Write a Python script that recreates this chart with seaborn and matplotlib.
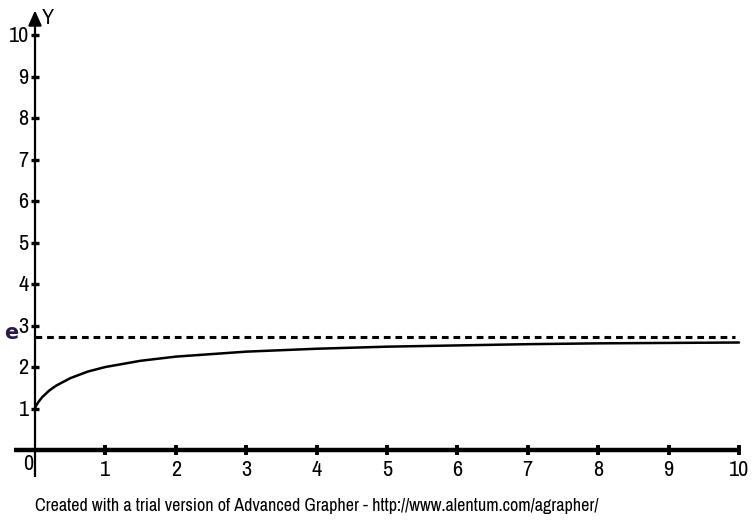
import matplotlib
matplotlib.use("Agg")
import matplotlib.pyplot as plt
from matplotlib import font_manager
import seaborn as sns
import pandas as pd

# values
curve_x = [0, 0.01, 0.02, 0.05, 0.1, 0.2, 0.3, 0.5, 0.75, 1, 1.5, 2, 3, 4, 5, 6, 7, 8, 9, 10]
curve_y = [1.0, 1.05, 1.08, 1.16, 1.27, 1.43, 1.55, 1.73, 1.89, 2.0, 2.15, 2.25, 2.37, 2.44, 2.49, 2.52, 2.55, 2.57, 2.58, 2.59]
asymptote_y = 2.718
x_ticks = [1, 2, 3, 4, 5, 6, 7, 8, 9, 10]
y_ticks = [1, 2, 3, 4, 5, 6, 7, 8, 9, 10]
footer = "Created with a trial version of Advanced Grapher - http://www.alentum.com/agrapher/"

sns.set_style("white")
names = sorted({f.name for f in font_manager.fontManager.ttflist})
narrow = [n for n in names if "Narrow" in n or "Condensed" in n]
FONT = (narrow[:1] if narrow else []) + ["Liberation Sans", "DejaVu Sans"]
plt.rcParams["font.family"] = FONT
TS = 16 if narrow else 12

fig = plt.figure(figsize=(7.53, 5.22), dpi=100)
ax = fig.add_axes([0, 0, 1, 1])
ax.set_xlim(-35 / 70.4, (753 - 35) / 70.4)
ax.set_ylim(-72 / 41.5, 450 / 41.5)
ax.axis("off")

df = pd.DataFrame({"x": curve_x, "y": curve_y})
sns.lineplot(data=df, x="x", y="y", ax=ax, color="black", linewidth=1.8, zorder=3)

# asymptote
ax.plot([0, 9.95], [asymptote_y, asymptote_y], color="black", linewidth=2.2,
        dashes=(2.2, 1.6), zorder=3)

# axes
ax.plot([-0.3, 10.0], [0, 0], color="black", linewidth=3.2, solid_capstyle="butt", zorder=4)
ax.annotate("", xy=(10.22, 0), xytext=(9.95, 0),
            arrowprops=dict(arrowstyle="-|>,head_length=0.7,head_width=0.35", color="black", lw=2))
ax.plot([0, 0], [-0.66, 10.3], color="black", linewidth=1.6, solid_capstyle="butt", zorder=4)
ax.annotate("", xy=(0, 10.66), xytext=(0, 10.2),
            arrowprops=dict(arrowstyle="-|>,head_length=0.9,head_width=0.4", color="black", lw=1.6))

# ticks
for t in x_ticks:
    ax.plot([t, t], [-0.13, 0.13], color="black", linewidth=2.8, solid_capstyle="butt", zorder=5)
    ax.text(t, -0.25, str(t), ha="center", va="top", fontsize=TS, color="black")
for t in y_ticks:
    ax.plot([-0.06, 0.06], [t, t], color="black", linewidth=2.4, solid_capstyle="butt", zorder=5)
    ax.text(-0.09, t - 0.03, str(t), ha="right", va="center", fontsize=TS, color="black")

ax.text(-0.03, -0.1, "0", ha="right", va="top", fontsize=TS, color="black")
ax.text(-0.24, asymptote_y + 0.1, "e", ha="right", va="center", fontsize=15,
        fontweight="bold", color="#2a1a4a", family=["DejaVu Sans"])
ax.text(0.1, 10.4, "Y", ha="left", va="center", fontsize=TS, color="black")
ax.text(10.2, 0.42, "X", ha="left", va="center", fontsize=13, color="black")

fig.text(35 / 753, 1 - 506 / 522, footer, ha="left", va="center", fontsize=13, color="black")

fig.savefig("out.png", dpi=100)
